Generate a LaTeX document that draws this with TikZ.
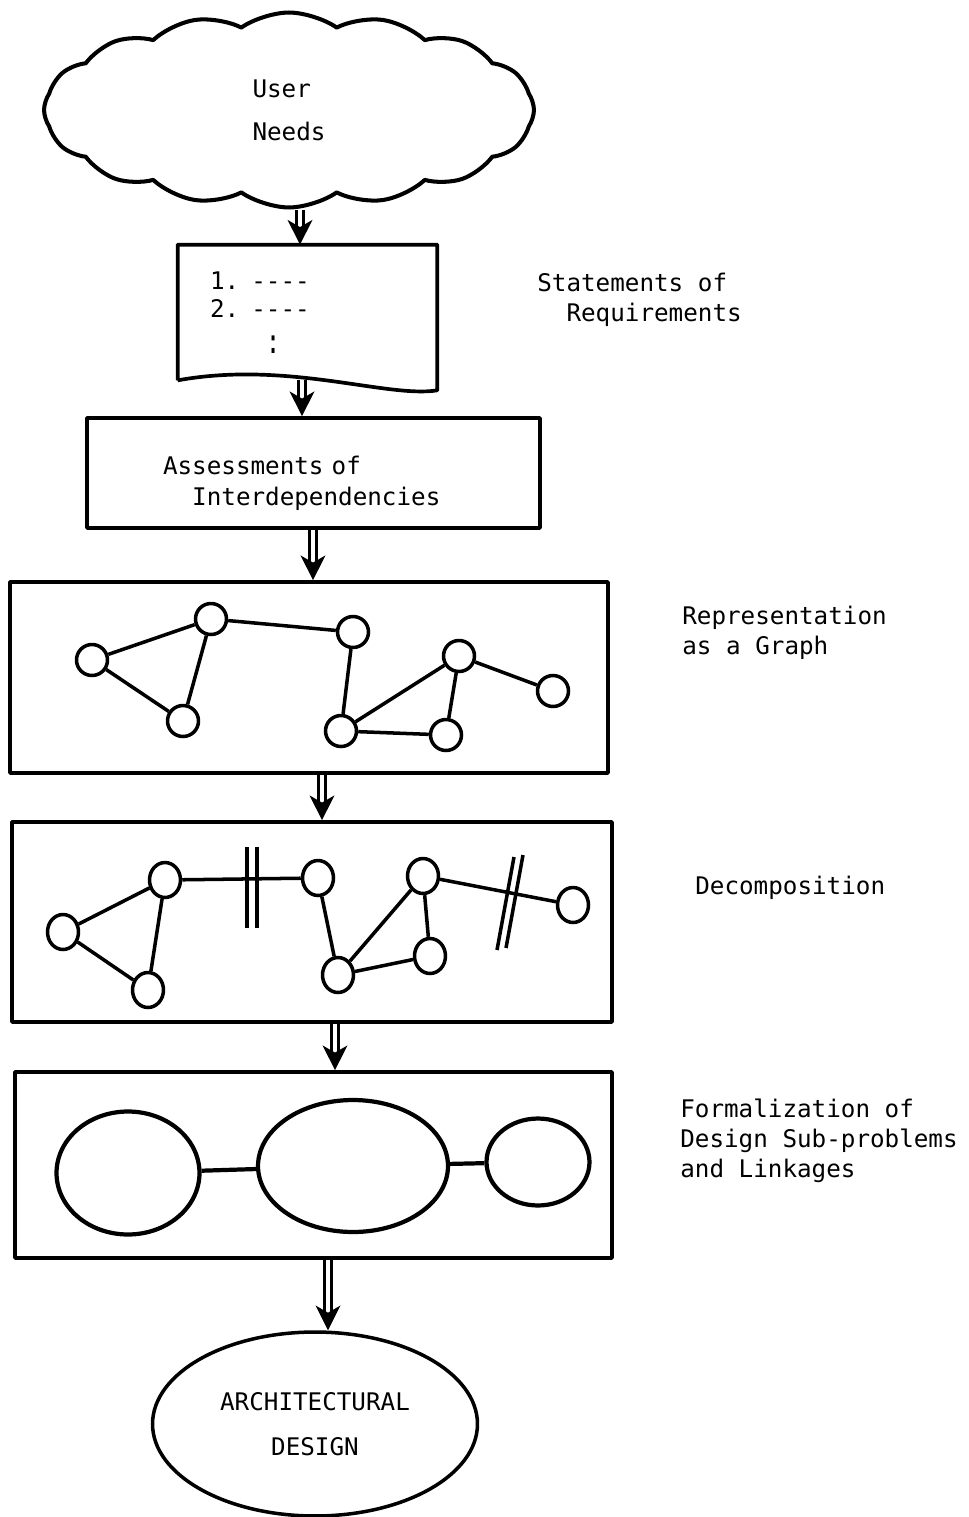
\documentclass[tikz,border=0pt]{standalone}
\usepackage{fontspec}
\usepackage{graphicx}
\setmainfont{DejaVu Sans Mono}
\usetikzlibrary{shapes.symbols,shapes.geometric,arrows.meta}

\begin{document}
\begin{tikzpicture}[x=0.02cm, y=-0.02cm, line join=round,
  flow/.style={double, double distance=2pt, line width=1.7pt, -{Stealth[length=14pt,width=14pt,inset=4pt]}},
  stepbox/.style={draw, rectangle, line width=2.1pt, inner sep=0pt},
  gnode/.style={circle, draw, line width=2pt, minimum size=0.62cm, inner sep=0pt},
  dnode/.style={ellipse, draw, line width=2pt, minimum width=0.62cm, minimum height=0.7cm, inner sep=0pt},
  blob/.style={ellipse, draw, line width=2.4pt, inner sep=0pt},
  link/.style={line width=2pt},
  txt/.style={font=\fontsize{13.8}{17}\selectfont, align=left, anchor=west, inner sep=0pt}]
\useasboundingbox (0,0) rectangle (969,1517);

% user needs
\node[cloud, draw, line width=2.3pt, cloud puffs=16, cloud puff arc=70, cloud ignores aspect,
  minimum width=9.8cm, minimum height=3.9cm, font=\fontsize{13.8}{24.5}\selectfont, align=left] (needs) at (289,110) {User\\Needs};

% statements of requirements
\node[minimum height=2.7cm, text width=3.9cm, inner xsep=0.64cm, inner ysep=0pt,
  font=\fontsize{13.8}{16}\selectfont, align=left] (reqs) at (307.5,312.5)
  {1. -{}-{}-{}-\\2. -{}-{}-{}-\\[4.5pt]\phantom{1. -}\scalebox{1}[1.4]{:}};
\draw[line width=2.1pt] (reqs.south west) -- (reqs.north west) -- (reqs.north east) -- ([yshift=-0.2cm]reqs.south east)
  .. controls +(-1cm,-0.16cm) and +(2.2cm,0.4cm) .. (reqs.south west);
\node[txt] (lreq) at (537,300) {Statements of\\\phantom{St}Requirements};

% assessments
\node[stepbox, minimum height=2.2cm, text width=6.02cm, inner xsep=1.52cm,
  font=\fontsize{13.8}{17.6}\selectfont, align=left] (assess) at (313.5,473) {\rule{0pt}{22pt}Assessments of\\\phantom{As}Interdependencies};

% graph
\node[stepbox, minimum width=11.96cm, minimum height=3.82cm] (graph) at (309,677.5) {};
\node[gnode] (a1) at (92,660) {};
\node[gnode] (a2) at (211,619) {};
\node[gnode] (a3) at (183,721) {};
\node[gnode] (a4) at (353,632) {};
\node[gnode] (a5) at (459,656) {};
\node[gnode] (a6) at (553,691) {};
\node[gnode] (a7) at (341,731) {};
\node[gnode] (a8) at (446,735) {};
\draw[link] (a1) -- (a2) -- (a3) -- (a1);
\draw[link] (a2) -- (a4) -- (a7) -- (a5) -- (a8) -- (a7);
\draw[link] (a5) -- (a6);
\node[txt] (lgraph) at (682,633) {Representation\\as a Graph};

% decomposition
\node[stepbox, minimum width=12cm, minimum height=4cm] (decomp) at (312,922) {};
\node[dnode] (b1) at (63,932) {};
\node[dnode] (b2) at (165,880) {};
\node[dnode] (b3) at (148,990) {};
\node[dnode] (b4) at (318,878) {};
\node[dnode] (b5) at (423,876) {};
\node[dnode] (b6) at (573,905) {};
\node[dnode] (b7) at (338,975) {};
\node[dnode] (b8) at (430,956) {};
\draw[link] (b1) -- (b2) -- (b3) -- (b1);
\draw[link] (b2) -- (b4) -- (b7) -- (b5) -- (b8) -- (b7);
\draw[link] (b5) -- (b6);
\draw[link] (247,847) -- (247,928) (257,847) -- (257,928);
\draw[link] (523,855) -- (506,948) (514,857) -- (497,950);
\node[txt] (ldecomp) at (695,888) {Decomposition};

% sub-problems
\node[stepbox, minimum width=11.94cm, minimum height=3.72cm] (formal) at (313.5,1165) {};
\node[blob, minimum width=2.86cm, minimum height=2.46cm] (p1) at (128,1173) {};
\node[blob, minimum width=3.8cm, minimum height=2.64cm] (p2) at (353,1166) {};
\node[blob, minimum width=2.06cm, minimum height=1.74cm] (p3) at (538,1162) {};
\draw[link, line width=2.4pt] (p1) -- (p2) -- (p3);
\node[txt] (lformal) at (680,1141) {Formalization of\\Design Sub-problems\\and Linkages};

% result
\node[ellipse, draw, line width=2pt, minimum width=6.5cm, minimum height=3.68cm, inner sep=0pt,
  font=\fontsize{13.8}{25.6}\selectfont, align=center] (arch) at (315,1424) {ARCHITECTURAL\\DESIGN};

\draw[flow] (needs.south -| 300,0) -- (reqs.north -| 300,0);
\draw[flow] (reqs.south -| 302,0) -- (assess.north -| 302,0);
\draw[flow] (assess.south -| 313,0) -- (graph.north -| 313,0);
\draw[flow] (graph.south -| 322,0) -- (decomp.north -| 322,0);
\draw[flow] (decomp.south -| 335,0) -- (formal.north -| 335,0);
\draw[flow] (formal.south -| 328,0) -- (arch.north -| 328,0);

\end{tikzpicture}
\end{document}
